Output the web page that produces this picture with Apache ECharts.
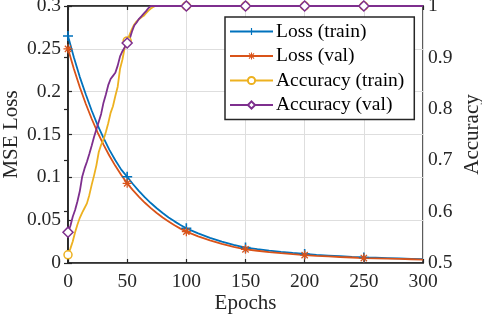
<!DOCTYPE html>
<html><head><meta charset="utf-8">
<script src="https://cdn.jsdelivr.net/npm/echarts@6/dist/echarts.min.js"></script>
<style>html,body{margin:0;padding:0;background:#fff}#c{width:482px;height:316px}</style>
</head><body><div id="c"></div>
<script>
const xTicks = [0, 50, 100, 150, 200, 250, 300];
const markerEpochs = [0, 50, 100, 150, 200, 250];

const lossEpochs = [0,5,10,15,20,25,30,35,40,45,50,55,60,65,70,75,80,85,90,95,100,110,120,130,140,150,160,170,180,190,200,210,220,230,240,250,260,270,280,290,300];
const lossTrain = [0.265,0.240,0.217,0.197,0.178,0.161,0.146,0.132,0.120,0.109,0.1007,0.0919,0.0839,0.0766,0.0700,0.0639,0.0583,0.0532,0.0486,0.0444,0.0405,0.0345,0.0293,0.0249,0.0212,0.0180,0.0162,0.0145,0.0130,0.0117,0.0105,0.0095,0.0087,0.0079,0.0071,0.0065,0.0061,0.0057,0.0053,0.0049,0.0045];
const lossVal = [0.250,0.2265,0.2052,0.1859,0.1684,0.1525,0.1382,0.1252,0.1134,0.1027,0.093,0.0847,0.0772,0.0703,0.0640,0.0583,0.0531,0.0484,0.0441,0.0401,0.0366,0.0310,0.0263,0.0223,0.0189,0.0160,0.0143,0.0128,0.0115,0.0103,0.0092,0.0084,0.0077,0.0070,0.0064,0.0058,0.0055,0.0052,0.0048,0.0044,0.0040];

const accEpochs = [0,2,4,6,8,10,12,14,16,18,20,22,24,26,28,30,32,34,36,38,40,42,44,46,48,50,52,54,56,58,60,62,64,66,68,70,72,74,76,100,150,200,250,300];
const accTrain = [0.516,0.528,0.542,0.560,0.575,0.588,0.598,0.607,0.616,0.632,0.652,0.670,0.690,0.716,0.730,0.740,0.755,0.772,0.792,0.805,0.825,0.843,0.878,0.896,0.920,0.932,0.944,0.955,0.964,0.970,0.974,0.978,0.981,0.986,0.991,0.995,0.998,1.0,1.0,1.0,1.0,1.0,1.0,1.0];
const accVal = [0.560,0.572,0.590,0.603,0.620,0.640,0.668,0.684,0.697,0.712,0.728,0.745,0.760,0.775,0.790,0.812,0.828,0.846,0.858,0.864,0.870,0.884,0.902,0.912,0.920,0.928,0.935,0.950,0.962,0.968,0.975,0.980,0.985,0.990,0.996,1.0,1.0,1.0,1.0,1.0,1.0,1.0,1.0,1.0];

const leftTicks = [0, 0.05, 0.1, 0.15, 0.2, 0.25, 0.3];
const rightTicks = [0.5, 0.6, 0.7, 0.8, 0.9, 1];

const FONT = 'Liberation Serif';
const FS = 19.5;
const FSN = 21;
const INK = '#262626';

function pts(ep, vals) {
  return ep.map((e, i) => markerEpochs.indexOf(e) >= 0 ? { value: [e, vals[i]] } : { value: [e, vals[i]], symbol: 'none' });
}

const plusPath = 'path://M4.2,0h1.6v4.2h4.2v1.6h-4.2v4.2h-1.6v-4.2h-4.2v-1.6h4.2z';
const starPath = 'path://M4.3,0h1.4v3.3l2.3,-2.3l1,1l-2.3,2.3h3.3v1.4h-3.3l2.3,2.3l-1,1l-2.3,-2.3v3.3h-1.4v-3.3l-2.3,2.3l-1,-1l2.3,-2.3h-3.3v-1.4h3.3l-2.3,-2.3l1,-1l2.3,2.3z';

function mk(name, ep, vals, color, symbol, size, yIdx, filled) {
  return {
    name, type: 'line', yAxisIndex: yIdx, data: pts(ep, vals),
    showAllSymbol: true, symbol, symbolSize: size,
    lineStyle: { color, width: 1.8 },
    itemStyle: filled ? { color, borderWidth: 0 } : { color: '#fff', borderColor: color, borderWidth: 1.5 },
    emphasis: { disabled: true }, animation: false, clip: true
  };
}

const chart = echarts.init(document.getElementById('c'), null, { renderer: 'canvas' });
chart.setOption({
  animation: false,
  textStyle: { fontFamily: FONT },
  grid: { left: 68, right: 59, top: 6, bottom: 53, containLabel: false, outerBoundsMode: 'none',
          show: true, borderColor: INK, borderWidth: 1.5, backgroundColor: 'transparent' },
  legend: {
    orient: 'vertical', left: 225, top: 17, itemWidth: 43, itemHeight: 9, itemGap: 4.5,
    padding: [4.5, 10, 4.5, 4],
    borderColor: INK, borderWidth: 1.5, backgroundColor: '#fff',
    textStyle: { fontFamily: FONT, fontSize: FS, color: '#000', padding: [0, 0, 0, -2] },
    data: ['Loss (train)', 'Loss (val)', 'Accuracy (train)', 'Accuracy (val)']
  },
  xAxis: [{
    type: 'value', min: 0, max: 300, interval: 50, position: 'bottom',
    name: 'Epochs', nameLocation: 'middle', nameGap: 30, nameMoveOverlap: false,
    nameTextStyle: { fontFamily: FONT, fontSize: FSN, color: INK },
    axisLine: { show: true, lineStyle: { color: INK, width: 1.5 } },
    axisTick: { show: true, inside: true, length: 4, lineStyle: { color: INK, width: 1.2 } },
    axisLabel: { fontFamily: FONT, fontSize: FS, color: INK, margin: 9 },
    splitLine: { show: true, lineStyle: { color: '#dedede', width: 1 } }
  }, {
    type: 'value', min: 0, max: 300, interval: 50, position: 'top',
    axisLine: { show: true, lineStyle: { color: INK, width: 1.5 } },
    axisTick: { show: true, inside: true, length: 4, lineStyle: { color: INK, width: 1.2 } },
    axisLabel: { show: false }, splitLine: { show: false }
  }],
  yAxis: [{
    type: 'value', min: 0, max: 0.3, interval: 0.05, position: 'left',
    name: 'MSE Loss', nameLocation: 'middle', nameGap: 46, nameRotate: 90, nameMoveOverlap: false,
    nameTextStyle: { fontFamily: FONT, fontSize: FSN, color: INK },
    axisLine: { show: true, lineStyle: { color: INK, width: 1.5 } },
    axisTick: { show: true, inside: true, length: 4, lineStyle: { color: INK, width: 1.2 } },
    axisLabel: { fontFamily: FONT, fontSize: FS, color: INK, margin: 7 },
    splitLine: { show: true, lineStyle: { color: '#dedede', width: 1 } }
  }, {
    type: 'value', min: 0.5, max: 1, interval: 0.1, position: 'right',
    name: 'Accuracy', nameLocation: 'middle', nameGap: 39, nameRotate: 90, nameMoveOverlap: false,
    nameTextStyle: { fontFamily: FONT, fontSize: FSN, color: INK },
    axisLine: { show: true, lineStyle: { color: INK, width: 1.5 } },
    axisTick: { show: true, inside: true, length: 4, lineStyle: { color: INK, width: 1.2 } },
    axisLabel: { fontFamily: FONT, fontSize: FS, color: INK, margin: 5 },
    splitLine: { show: false }
  }],
  series: [
    mk('Loss (train)', lossEpochs, lossTrain, '#0072BD', plusPath, 10, 0, true),
    mk('Loss (val)', lossEpochs, lossVal, '#D95319', starPath, 9, 0, true),
    mk('Accuracy (train)', accEpochs, accTrain, '#EDB120', 'circle', 8, 1, false),
    mk('Accuracy (val)', accEpochs, accVal, '#7E2F8E', 'diamond', 10, 1, false)
  ]
});
</script></body></html>
